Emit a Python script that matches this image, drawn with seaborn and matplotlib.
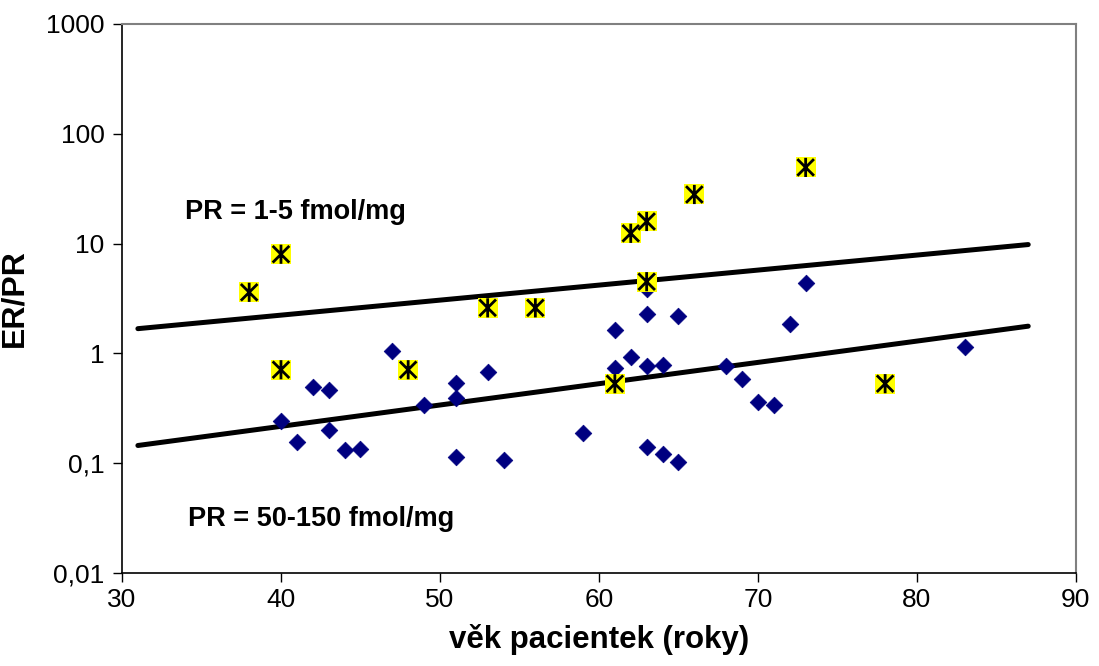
import numpy as np
import pandas as pd
import seaborn as sns
import matplotlib.pyplot as plt
from matplotlib.path import Path

# --- DATA ---
# ER/PR ratio vs. patient age; blue diamonds = main group
blue_age = [40, 41, 42, 43, 43, 44, 45, 47, 49, 51, 51, 51, 53, 54,
            59, 61, 61, 62, 63, 63, 63, 63, 64, 64, 65, 65, 68, 69,
            70, 71, 72, 73, 83]
blue_ratio = [0.24, 0.155, 0.49, 0.46, 0.20, 0.131, 0.134, 1.05, 0.34, 0.54, 0.39, 0.114, 0.68, 0.108,
              0.19, 1.65, 0.73, 0.93, 3.9, 2.3, 0.76, 0.14, 0.78, 0.122, 2.2, 0.102, 0.77, 0.58,
              0.36, 0.34, 1.86, 4.4, 1.14]

# highlighted patients (yellow squares with asterisk)
star_age = [38, 40, 40, 48, 53, 56, 61, 62, 63, 63, 66, 73, 78]
star_ratio = [3.6, 8.0, 0.71, 0.71, 2.6, 2.6, 0.53, 12.4, 15.9, 4.5, 28, 49.4, 0.53]

# reference lines (endpoints, straight on log scale)
line_age = [31, 87]
line_pr_low = [1.68, 9.8]     # PR = 1-5 fmol/mg
line_pr_high = [0.145, 1.77]  # PR = 50-150 fmol/mg

y_ticks = [0.01, 0.1, 1, 10, 100, 1000]
y_tick_labels = ["0,01", "0,1", "1", "10", "100", "1000"]
x_ticks = [30, 40, 50, 60, 70, 80, 90]

# --- STYLE ---
sns.set_theme(style="ticks")
plt.rcParams["font.family"] = ["Liberation Sans", "DejaVu Sans"]
plt.rcParams["text.color"] = "black"
plt.rcParams["axes.labelcolor"] = "black"

blue_df = pd.DataFrame({"age": blue_age, "ratio": blue_ratio})
star_df = pd.DataFrame({"age": star_age, "ratio": star_ratio})

fig = plt.figure(figsize=(10.99, 6.66), dpi=100)
ax = fig.add_axes([0.111, 0.1396, 0.868, 0.8244])

# lines
sns.lineplot(x=line_age, y=line_pr_low, ax=ax, color="black", linewidth=3.6, zorder=2)
sns.lineplot(x=line_age, y=line_pr_high, ax=ax, color="black", linewidth=3.6, zorder=2)

# blue diamonds
sns.scatterplot(data=blue_df, x="age", y="ratio", ax=ax, marker="D", s=72,
                color="#000080", edgecolor="#000080", linewidth=0.5, zorder=3)

# yellow squares + asterisk
sns.scatterplot(data=star_df, x="age", y="ratio", ax=ax, marker="s", s=215,
                color="#ffff00", edgecolor="#ffff00", linewidth=0, zorder=4)
asterisk = Path([(-1, -1), (1, 1), (-1, 1), (1, -1), (0, -1.15), (0, 1.15)],
                [Path.MOVETO, Path.LINETO, Path.MOVETO, Path.LINETO, Path.MOVETO, Path.LINETO])
ax.scatter(star_df["age"], star_df["ratio"], marker=asterisk, s=190,
           facecolors="none", edgecolors="black", linewidths=2.0, zorder=5)

ax.set_yscale("log")
ax.set_xlim(30, 90)
ax.set_ylim(0.01, 1000)
ax.set_yticks(y_ticks)
ax.set_yticklabels(y_tick_labels)
ax.yaxis.set_minor_locator(plt.NullLocator())
ax.set_xticks(x_ticks)

ax.tick_params(axis="both", direction="out", length=6.5, width=1, color="black",
               labelsize=19, labelcolor="black")
ax.tick_params(axis="x", pad=4)
ax.tick_params(axis="y", pad=6)

for side in ["left", "bottom"]:
    ax.spines[side].set_color("black")
    ax.spines[side].set_linewidth(1.2)
for side in ["top", "right"]:
    ax.spines[side].set_visible(True)
    ax.spines[side].set_color("#808080")
    ax.spines[side].set_linewidth(1.5)

ax.set_xlabel("věk pacientek (roky)", fontsize=22.5, fontweight="bold", labelpad=9,
              color="black")
ax.set_ylabel("ER/PR", fontsize=23, fontweight="bold", labelpad=12, color="black")

ax.text(33.96, 19.6, "PR = 1-5 fmol/mg", fontsize=19.5, fontweight="bold",
        ha="left", va="center", color="black")
ax.text(34.15, 0.0308, "PR = 50-150 fmol/mg", fontsize=19.5, fontweight="bold",
        ha="left", va="center", color="black")

ax.grid(False)
fig.savefig("out.png", dpi=100)
